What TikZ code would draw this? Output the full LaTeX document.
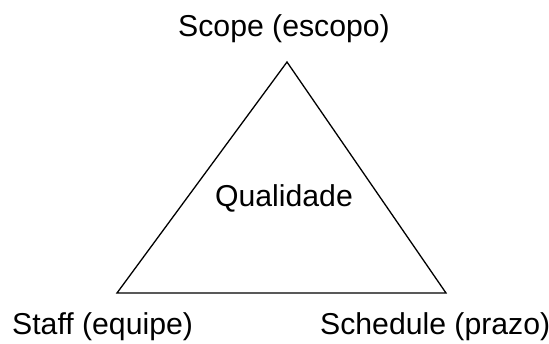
\documentclass[tikz,border=0pt]{standalone}
\usepackage{fontspec}
\setmainfont{Liberation Sans}
\begin{document}
\begin{tikzpicture}[x=1pt,y=-1pt,
  lbl/.style={inner sep=0pt,font=\fontsize{30.2}{32}\selectfont},
  edge/.style={line width=1.3pt,line join=miter}]
\useasboundingbox (0,0) rectangle (549,343);
\coordinate (top) at (287,62);
\coordinate (bl) at (117,293);
\coordinate (br) at (446,293);
\draw[edge] (top) -- (bl) -- (br) -- cycle;
\node[lbl,anchor=base] (scope) at (284,36) {Scope (escopo)};
\node[lbl,anchor=base] (qual) at (284,206) {Qualidade};
\node[lbl,anchor=base west] (staff) at (12,334) {Staff (equipe)};
\node[lbl,anchor=base west] (sched) at (320,334) {Schedule (prazo)};
\end{tikzpicture}
\end{document}
